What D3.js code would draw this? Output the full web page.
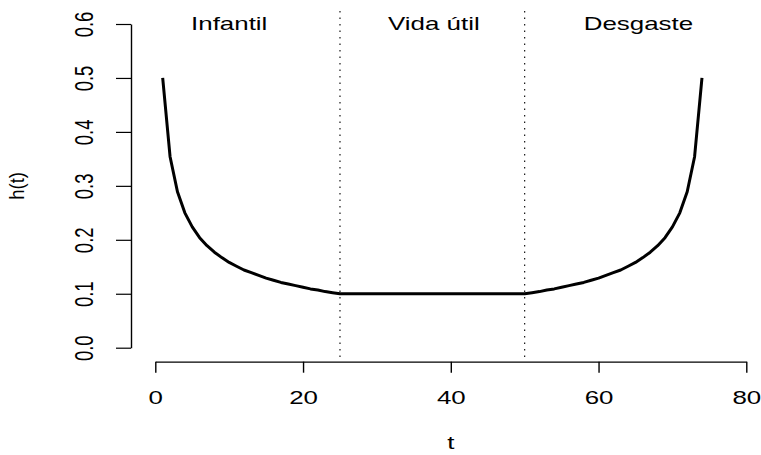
<!DOCTYPE html>
<html>
<head>
<meta charset="utf-8">
<script src="https://cdn.jsdelivr.net/npm/d3@7"></script>
<style>
  html, body { margin: 0; padding: 0; background: #fff; }
  svg { display: block; }
  text { font-family: "Liberation Sans", Arial, Helvetica, sans-serif; fill: #000; }
</style>
</head>
<body>
<script>
// ---- data ----
const tValues = d3.range(1, 75);   // t = 1 .. 74
const hValues = [
  0.500, 0.354, 0.289, 0.250, 0.224, 0.204, 0.189, 0.177, 0.167, 0.158,
  0.151, 0.144, 0.139, 0.134, 0.129, 0.125, 0.121, 0.118, 0.115, 0.112,
  0.109, 0.107, 0.104, 0.102, 0.100,
  0.100, 0.100, 0.100, 0.100, 0.100, 0.100, 0.100, 0.100, 0.100, 0.100,
  0.100, 0.100, 0.100, 0.100, 0.100, 0.100, 0.100, 0.100, 0.100, 0.100,
  0.100, 0.100, 0.100, 0.100,
  0.100, 0.102, 0.104, 0.107, 0.109, 0.112, 0.115, 0.118, 0.121, 0.125,
  0.129, 0.134, 0.139, 0.144, 0.151, 0.158, 0.167, 0.177, 0.189, 0.204,
  0.224, 0.250, 0.289, 0.354, 0.500
];
const xTicks = [0, 20, 40, 60, 80];
const yTicks = [0.0, 0.1, 0.2, 0.3, 0.4, 0.5, 0.6];
const phaseBreaks = [25, 50];
const phaseLabels = ["Infantil", "Vida útil", "Desgaste"];
const phaseLabelT = [10, 37.7, 65.4];
const phaseLabelH = 0.589;
const xTitle = "t";
const yTitle = "h(t)";

// ---- layout ----
const W = 761, H = 455;
const SX = 1.4;           // horizontal stretch of the reference
const FS = 18.5;
const x = d3.scaleLinear().domain([0, 80]).range([155.3, 746.3]);
const y = d3.scaleLinear().domain([0, 0.6]).range([347.7, 24]);
const axisX = 131, axisY = 361.7;

const svg = d3.select("body").append("svg").attr("width", W).attr("height", H);
svg.append("rect").attr("width", W).attr("height", H).attr("fill", "#fff");

// dotted phase separators
svg.selectAll("line.sep").data(phaseBreaks).enter().append("line")
  .attr("class", "sep")
  .attr("x1", d => x(d)).attr("x2", d => x(d))
  .attr("y1", y(0.624)).attr("y2", y(-0.024))
  .attr("stroke", "#000").attr("stroke-width", 1.1)
  .attr("stroke-dasharray", "1.4,5.1");

// curve
const pts = tValues.map((t, i) => [t, hValues[i]]);
svg.append("path")
  .datum(pts)
  .attr("fill", "none").attr("stroke", "#000").attr("stroke-width", 3)
  .attr("stroke-linejoin", "round").attr("stroke-linecap", "butt")
  .attr("d", d3.line().x(d => x(d[0])).y(d => y(d[1])));

// x axis
const gx = svg.append("g").attr("transform", `translate(0,${axisY})`)
  .call(d3.axisBottom(x).tickValues(xTicks).tickFormat(d3.format("d")).tickSize(11).tickSizeOuter(0));
gx.select(".domain").attr("stroke", "#000").attr("stroke-width", 1.2);
gx.selectAll(".tick line").attr("stroke", "#000").attr("stroke-width", 1.4);
gx.selectAll(".tick text")
  .attr("x", 0).attr("y", 0).attr("dy", null)
  .attr("text-anchor", "middle")
  .attr("font-size", FS)
  .attr("font-family", "Liberation Sans, Arial, sans-serif")
  .attr("transform", `translate(0,${404 - axisY}) scale(${SX},1)`);

// y axis
const gy = svg.append("g").attr("transform", `translate(${axisX},0)`)
  .call(d3.axisLeft(y).tickValues(yTicks).tickFormat(d3.format(".1f")).tickSize(15).tickSizeOuter(0));
gy.select(".domain").attr("stroke", "#000").attr("stroke-width", 1.4);
gy.selectAll(".tick line").attr("stroke", "#000").attr("stroke-width", 1.2);
gy.selectAll(".tick text")
  .attr("x", 0).attr("y", 0).attr("dy", null)
  .attr("text-anchor", "middle")
  .attr("font-size", FS)
  .attr("font-family", "Liberation Sans, Arial, sans-serif")
  .attr("transform", `translate(${93.3 - axisX},0) scale(${SX},1) rotate(-90)`);

// phase labels
svg.selectAll("text.phase").data(phaseLabels).enter().append("text")
  .attr("class", "phase")
  .attr("text-anchor", "middle")
  .attr("font-size", FS)
  .attr("transform", (d, i) => `translate(${x(phaseLabelT[i])},${y(phaseLabelH)}) scale(${SX},1)`)
  .text(d => d);

// axis titles
svg.append("text")
  .attr("text-anchor", "middle").attr("font-size", FS)
  .attr("transform", `translate(${x(40)},449) scale(${SX},1)`)
  .text(xTitle);
svg.append("text")
  .attr("text-anchor", "middle").attr("font-size", FS)
  .attr("transform", `translate(24,${(y(0) + y(0.6)) / 2}) scale(1.05,1) rotate(-90)`)
  .text(yTitle);
</script>
</body>
</html>
